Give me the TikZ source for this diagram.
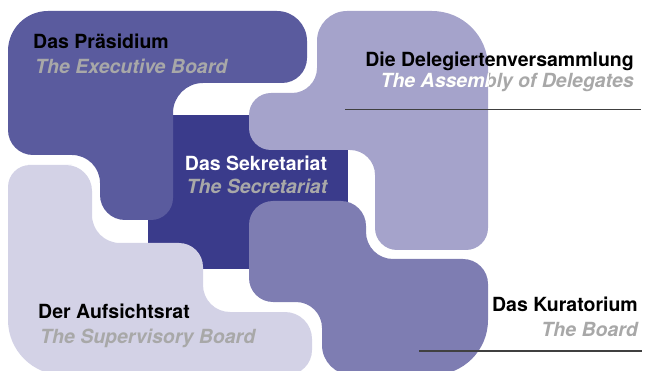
\documentclass[tikz,border=0pt]{standalone}
\usepackage{fontspec}
\setmainfont{TeX Gyre Heros}
\usetikzlibrary{positioning}

\definecolor{praes}{RGB}{90,91,158}
\definecolor{deleg}{RGB}{165,163,203}
\definecolor{sekr}{RGB}{58,59,139}
\definecolor{aufs}{RGB}{211,210,230}
\definecolor{kurat}{RGB}{126,125,178}
\definecolor{greytext}{RGB}{168,168,168}
\definecolor{rulegrey}{RGB}{64,64,64}

\begin{document}
\begin{tikzpicture}[
			x=1pt, y=-1pt,
			title/.style = {font=\bfseries\fontsize{19.5}{22}\selectfont,
				inner sep=0pt},% German name
			subtitle/.style = {font=\bfseries\itshape\fontsize{19.5}{22}\selectfont,
				text=greytext, inner sep=0pt},% English name
			rule/.style = {draw=rulegrey, line width=1.5pt},
			]
			\useasboundingbox (0,0) rectangle (645,371);
			% Sekretariat (lies under the others)
			\fill[sekr] (148,115) rectangle (348,269);
			% Praesidium
			\fill[praes] (150,11)
				[rounded corners=30pt] -- (307,11)
				[rounded corners=25pt] -- (307,83)
				[rounded corners=30pt] -- (173,83)
				[rounded corners=22pt] -- (173,220)
				[rounded corners=25pt] -- (100,220)
				[rounded corners=28pt] -- (100,155)
				[rounded corners=25pt] -- (8,155)
				[rounded corners=40pt] -- (8,11) -- cycle;
			% Delegiertenversammlung
			\fill[deleg] (380,11)
				[rounded corners=56pt] -- (488,11)
				[rounded corners=22pt] -- (488,250)
				[rounded corners=22pt] -- (375,250)
				[rounded corners=25pt] -- (375,150)
				[rounded corners=22pt] -- (249,150)
				[rounded corners=22pt] -- (249,93)
				[rounded corners=25pt] -- (317,93)
				[rounded corners=30pt] -- (317,11) -- cycle;
			% Kuratorium
			\fill[kurat] (300,201)
				[rounded corners=25pt] -- (366,201)
				[rounded corners=27pt] -- (366,259)
				[rounded corners=25pt] -- (488,259)
				[rounded corners=55pt] -- (488,375)
				[rounded corners=30pt] -- (322,375)
				[rounded corners=26pt] -- (322,302)
				[rounded corners=24pt] -- (249,302)
				[rounded corners=24pt] -- (249,201) -- cycle;
			% Aufsichtsrat
			\fill[aufs] (50,165)
				[rounded corners=26pt] -- (92,165)
				[rounded corners=28pt] -- (92,243)
				[rounded corners=24pt] -- (203,243)
				[rounded corners=27pt] -- (203,312)
				[rounded corners=27pt] -- (312,312)
				[rounded corners=25pt] -- (312,375)
				[rounded corners=55pt] -- (8,375)
				[rounded corners=22pt] -- (8,165) -- cycle;
			% names
			\node[title, anchor=base west] (praesDe) at (33,49) {Das Präsidium};
			\node[subtitle, anchor=base west] (praesEn) at ([shift={(2,25)}]praesDe.base west) {The Executive Board};
			\node[title, anchor=base east] (delegDe) at (634,67) {Die Delegiertenversammlung};
			\node[subtitle, anchor=base east] (delegEn) at ([shift={(0,21)}]delegDe.base east) {The Assembly of Delegates};
			\begin{scope}
				\clip (317,60) rectangle (488,100);% part lying on the shape
				\node[subtitle, text=white, anchor=base east] at (delegEn.base east) {The Assembly of Delegates};
			\end{scope}
			\node[title, text=white, anchor=base] (sekrDe) at (256,171) {Das Sekretariat};
			\node[subtitle, anchor=base] (sekrEn) at ([shift={(1,23)}]sekrDe.base) {The Secretariat};
			\node[title, anchor=base west] (aufsDe) at (38,318) {Der Aufsichtsrat};
			\node[subtitle, anchor=base west] (aufsEn) at ([shift={(2,25)}]aufsDe.base west) {The Supervisory Board};
			\node[title, anchor=base east] (kuratDe) at (638,311) {Das Kuratorium};
			\node[subtitle, anchor=base east] (kuratEn) at ([shift={(0,25)}]kuratDe.base east) {The Board};
			% rules under the right-hand names
			\coordinate (delegL) at (345,109.5);
			\coordinate (delegR) at (641,109.5);
			\coordinate (kuratL) at (419,351);
			\coordinate (kuratR) at (642,351);
			\draw[rule] (delegL) -- (delegR);
			\draw[rule] (kuratL) -- (kuratR);
		\end{tikzpicture}
\end{document}
